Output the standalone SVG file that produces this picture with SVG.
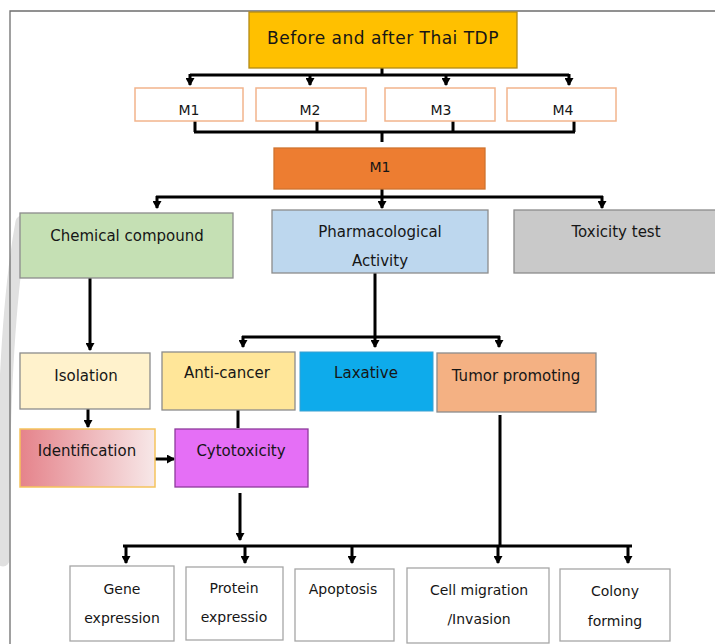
<svg xmlns="http://www.w3.org/2000/svg" width="715" height="644" viewBox="0 0 715 644">
<defs>
<marker id="ah" markerUnits="userSpaceOnUse" markerWidth="9" markerHeight="9" refX="7" refY="4.5" orient="auto">
<path d="M0,0 L8,4.5 L0,9 z" fill="#000"/>
</marker>
<linearGradient id="gId" x1="0" y1="0" x2="1" y2="0">
<stop offset="0" stop-color="#E5838B"/>
<stop offset="1" stop-color="#F7E8E8"/>
</linearGradient>
<style>
text{font-family:"DejaVu Sans","Liberation Sans",sans-serif;font-size:15px;fill:#161616;text-anchor:middle}
.sm{font-size:14px}
.tt{font-size:17px;letter-spacing:0.5px}
.gb{stroke:#8c8c8c;stroke-width:1.3}
.wb{fill:#fff;stroke:#a6a6a6;stroke-width:1.3}
.mb{fill:#fff;stroke:#F2B48C;stroke-width:1.5}
.c{fill:none;stroke:#000;stroke-width:3}
.a{fill:none;stroke:#000;stroke-width:3;marker-end:url(#ah)}
</style>
</defs>
<rect width="715" height="644" fill="#fff"/>
<path d="M22,222 Q2,330 3,560" fill="none" stroke="#e0e0e0" stroke-width="13" stroke-linecap="round"/>
<path d="M10,644 L10,11 L715,11" fill="none" stroke="#6e6e6e" stroke-width="1.3"/>

<g id="connectors">
<path class="c" d="M382,67 L382,75 M190,75 L569,75"/>
<path class="a" d="M190,74 L190,85"/>
<path class="a" d="M310,74 L310,85"/>
<path class="a" d="M446,74 L446,85"/>
<path class="a" d="M569,74 L569,85"/>
<path class="c" d="M195,121 L195,132 M317,121 L317,132 M453,121 L453,132 M574,121 L574,132 M194,132 L575,132"/>
<path class="c" d="M382,133 L382,142" stroke-width="1.5"/>
<path class="c" d="M382,189 L382,197 M156,197 L603,197"/>
<path class="a" d="M157,196 L157,208"/>
<path class="a" d="M382,196 L382,208"/>
<path class="a" d="M602,196 L602,208"/>
<path class="a" d="M90,278 L90,350"/>
<path class="c" d="M375,273 L375,337 M242,337 L500,337"/>
<path class="a" d="M243,336 L243,347"/>
<path class="a" d="M375,336 L375,347"/>
<path class="a" d="M499,336 L499,347"/>
<path class="a" d="M88,409 L88,427"/>
<path class="c" d="M238,410 L238,428"/>
<path class="a" d="M155,459 L174,459"/>
<path class="a" d="M240,493 L240,540"/>
<path class="c" d="M500,415 L500,546 M123,546 L632,546"/>
<path class="a" d="M126,545 L126,563"/>
<path class="a" d="M245,545 L245,563"/>
<path class="a" d="M352,545 L352,563"/>
<path class="a" d="M498,545 L498,563"/>
<path class="a" d="M628,545 L628,563"/>
</g>

<g id="n-title">
<rect x="249" y="12" width="268" height="56" fill="#FFC000" stroke="#B38A14" stroke-width="1.3"/>
<text class="tt" x="383" y="44">Before and after Thai TDP</text>
</g>
<g id="n-m1"><rect class="mb" x="135" y="88" width="108" height="33"/><text class="sm" x="189" y="115">M1</text></g>
<g id="n-m2"><rect class="mb" x="256" y="88" width="110" height="33"/><text class="sm" x="310" y="115">M2</text></g>
<g id="n-m3"><rect class="mb" x="385" y="88" width="110" height="33"/><text class="sm" x="441" y="115">M3</text></g>
<g id="n-m4"><rect class="mb" x="507" y="88" width="109" height="33"/><text class="sm" x="563" y="115">M4</text></g>
<g id="n-m1b">
<rect x="274" y="148" width="211" height="41" fill="#ED7D31" stroke="#D0742E" stroke-width="1.3"/>
<text class="sm" x="380" y="172">M1</text>
</g>
<g id="n-chem">
<rect class="gb" x="20" y="213" width="213" height="65" fill="#C5E0B4"/>
<text x="127" y="241">Chemical compound</text>
</g>
<g id="n-pharm">
<rect class="gb" x="272" y="210" width="216" height="63" fill="#BDD7EE"/>
<text x="380" y="237">Pharmacological</text>
<text x="380" y="266">Activity</text>
</g>
<g id="n-tox">
<rect class="gb" x="514" y="210" width="205" height="63" fill="#C9C9C9"/>
<text x="616" y="237">Toxicity test</text>
</g>
<g id="n-iso">
<rect class="gb" x="20" y="353" width="130" height="56" fill="#FFF2CC"/>
<text x="86" y="381">Isolation</text>
</g>
<g id="n-anti">
<rect class="gb" x="162" y="352" width="133" height="58" fill="#FFE699"/>
<text x="227" y="378">Anti-cancer</text>
</g>
<g id="n-lax">
<rect x="300" y="352" width="133" height="59" fill="#0EABEB" stroke="#3aa0d0" stroke-width="1"/>
<text x="366" y="378">Laxative</text>
</g>
<g id="n-tumor">
<rect class="gb" x="437" y="353" width="159" height="59" fill="#F4B183"/>
<text x="516" y="381">Tumor promoting</text>
</g>
<g id="n-ident">
<rect x="20" y="429" width="135" height="58" fill="url(#gId)" stroke="#F5C35C" stroke-width="1.5"/>
<text x="87" y="456">Identification</text>
</g>
<g id="n-cyto">
<rect x="175" y="429" width="133" height="58" fill="#E56FF6" stroke="#8E3A9C" stroke-width="1.3"/>
<text x="241" y="456">Cytotoxicity</text>
</g>
<g id="n-gene">
<rect class="wb" x="70" y="566" width="104" height="75"/>
<text class="sm" x="122" y="594">Gene</text>
<text class="sm" x="122" y="623">expression</text>
</g>
<g id="n-prot">
<rect class="wb" x="186" y="567" width="97" height="73"/>
<text class="sm" x="234" y="593">Protein</text>
<text class="sm" x="234" y="622">expressio</text>
</g>
<g id="n-apop">
<rect class="wb" x="295" y="569" width="99" height="72"/>
<text class="sm" x="343" y="594">Apoptosis</text>
</g>
<g id="n-cell">
<rect class="wb" x="407" y="568" width="142" height="75"/>
<text class="sm" x="479" y="595">Cell migration</text>
<text class="sm" x="479" y="624">/Invasion</text>
</g>
<g id="n-colony">
<rect class="wb" x="560" y="569" width="110" height="72"/>
<text class="sm" x="615" y="596">Colony</text>
<text class="sm" x="615" y="626">forming</text>
</g>
</svg>
